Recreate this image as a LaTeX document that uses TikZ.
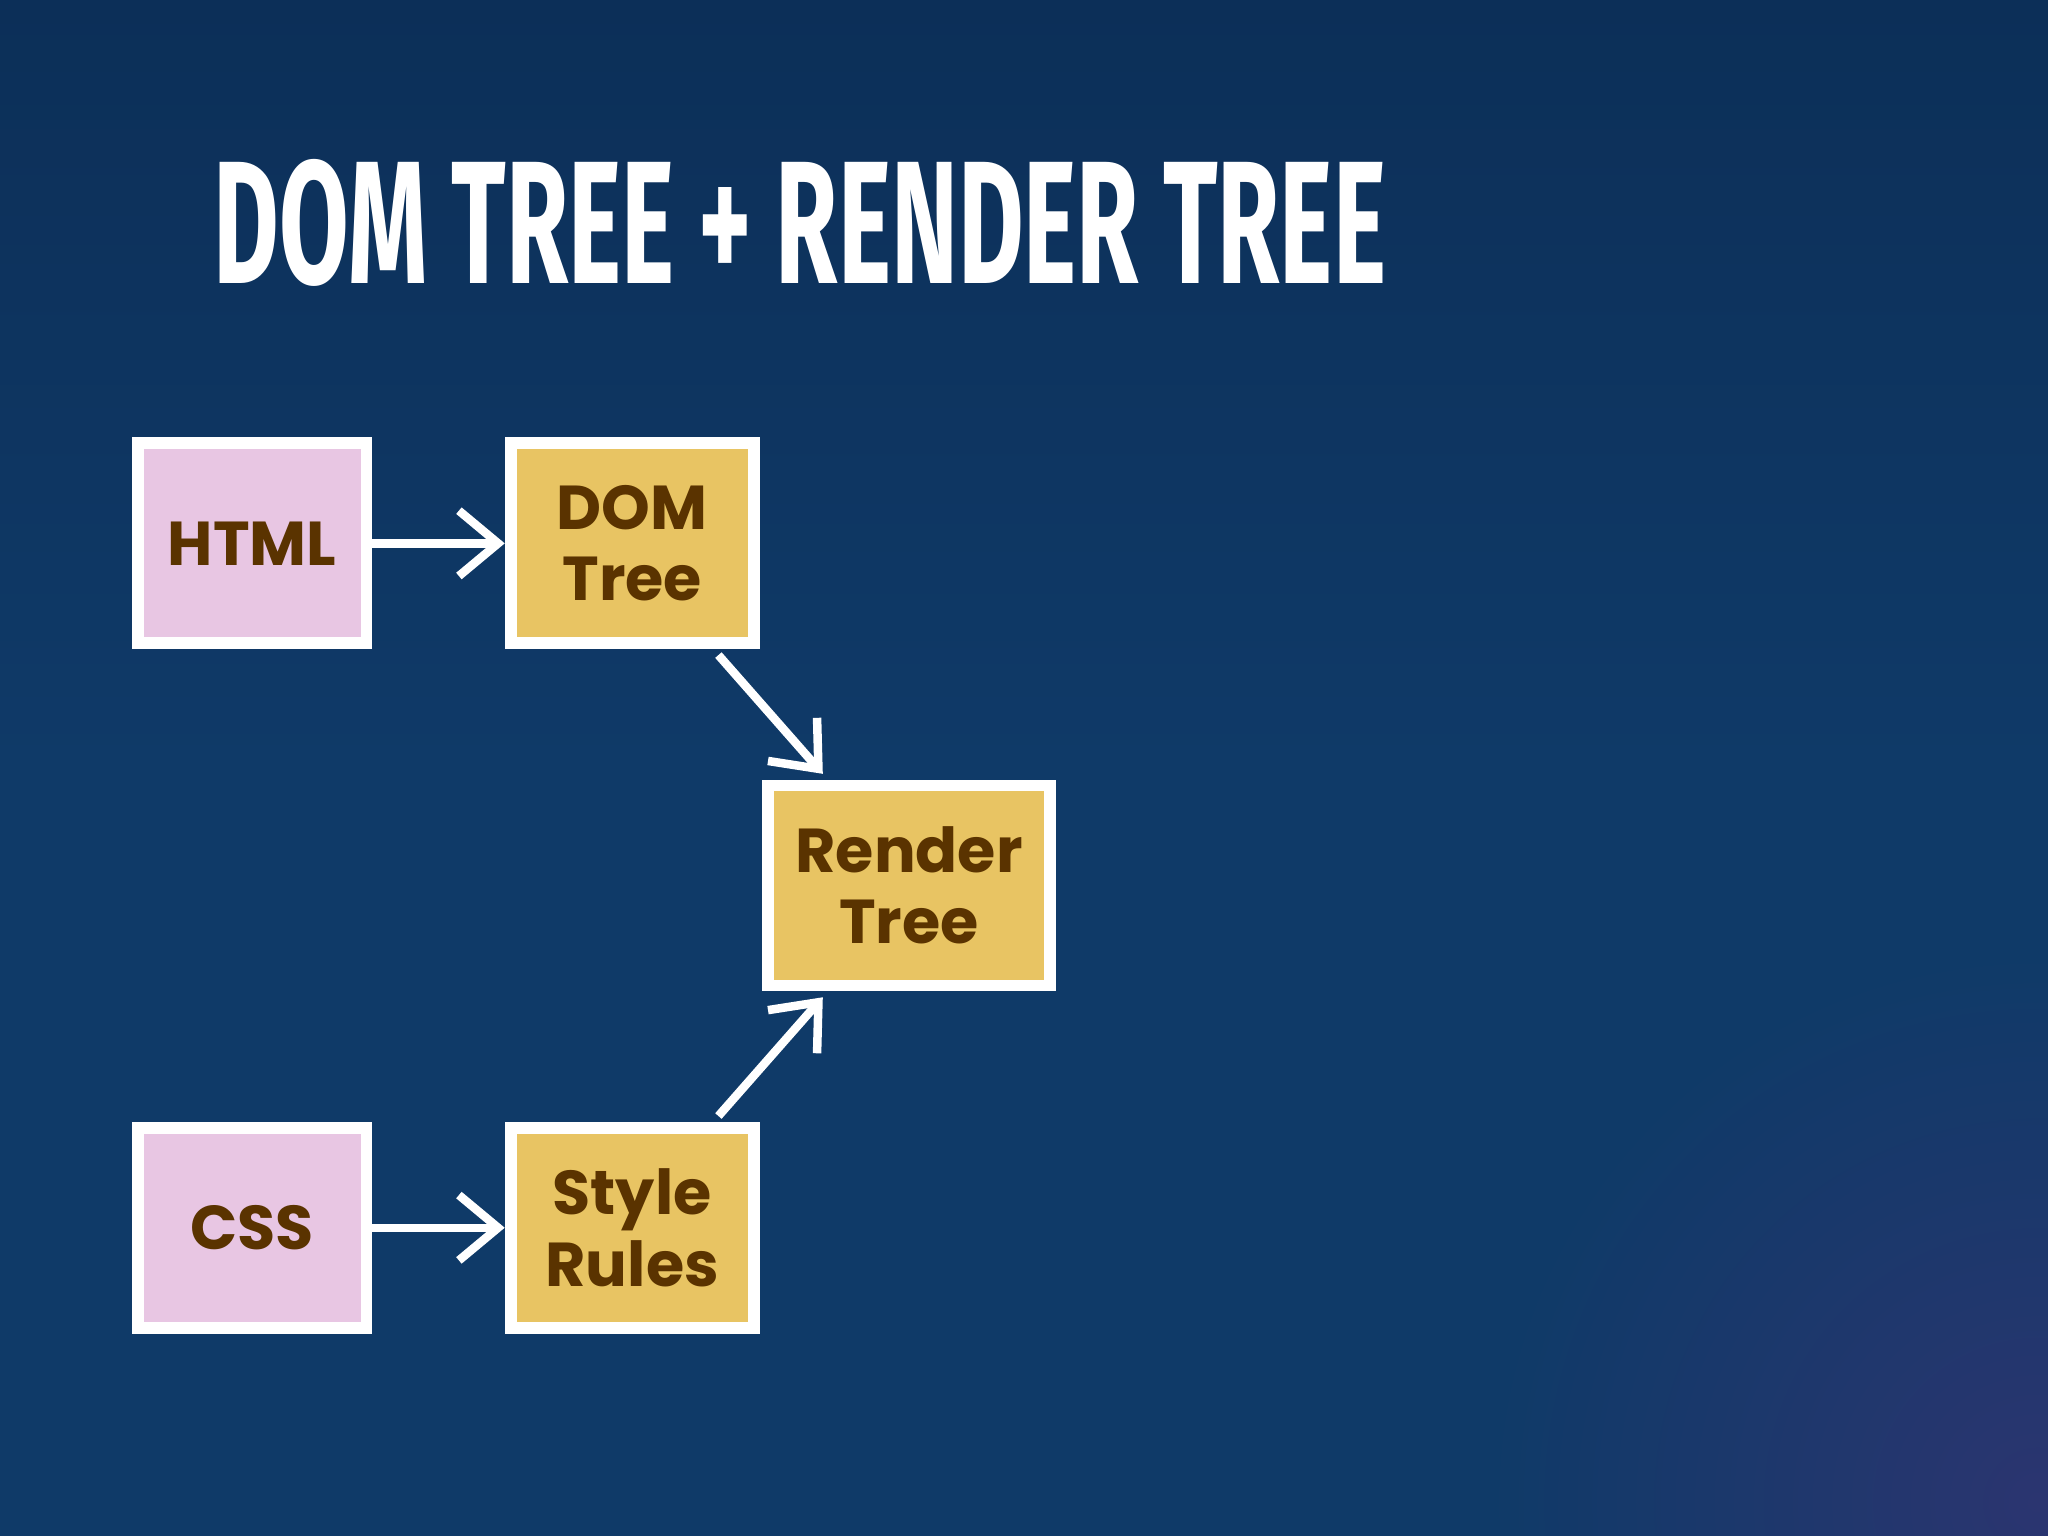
\documentclass[tikz,border=0pt]{standalone}
\usepackage{fontspec}
\setmainfont{Poppins}
\newfontfamily\titlefont{Fira Sans}
\usetikzlibrary{arrows.meta,calc}
\definecolor{bgA}{HTML}{0F3A68}
\definecolor{bgTop}{HTML}{0C2F58}
\definecolor{bgB}{HTML}{2B3570}
\definecolor{pinkbox}{HTML}{E8C6E3}
\definecolor{goldbox}{HTML}{E8C463}
\definecolor{boxtext}{HTML}{5A3300}
\tikzset{
  box/.style={draw=white,line width=0.09cm,minimum height=1.53cm,text=boxtext,
    font=\bfseries\fontsize{13.5}{15.5}\selectfont,align=center,inner sep=0pt},
  pinkb/.style={box,fill=pinkbox,minimum width=1.75cm},
  goldb/.style={box,fill=goldbox},
  conn/.style={draw=white,line width=0.065cm,-{Straight Barb[length=0.3cm,width=0.5cm,line width=0.065cm]}}
}
\begin{document}
\begin{tikzpicture}[x=0.01cm,y=-0.01cm]
\useasboundingbox (0,0) rectangle (1568,1176);
\shade[top color=bgTop,bottom color=bgA,middle color=bgA] (0,0) rectangle (1568,1176);
\shade[inner color=bgB,outer color=bgA] (1560,1150) circle (420);
\node[anchor=south west,inner sep=0pt,text=white] (title) at (163,220)
  {\resizebox{8.97cm}{0.95cm}{\titlefont\bfseries DOM TREE + RENDER TREE}};
\node[pinkb] (html) at (193,416) {HTML};
\node[goldb,minimum width=1.86cm] (dom) at (484,416) {DOM\\Tree};
\node[goldb,minimum width=2.16cm] (render) at (696,678) {Render\\Tree};
\node[pinkb] (css) at (193,940) {CSS};
\node[goldb,minimum width=1.86cm] (style) at (484,940) {Style\\Rules};
\draw[conn] (html) -- (dom);
\draw[conn] (css) -- (style);
\draw[conn] ([xshift=0.66cm,yshift=-0.045cm]dom.south) -- ([xshift=-0.66cm,yshift=0.045cm]render.north);
\draw[conn] ([xshift=0.66cm,yshift=0.045cm]style.north) -- ([xshift=-0.66cm,yshift=-0.045cm]render.south);
\end{tikzpicture}
\end{document}
